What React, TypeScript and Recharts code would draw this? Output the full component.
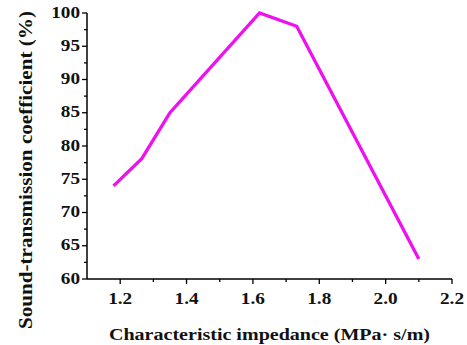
import React from 'react';
import { LineChart, Line, XAxis, YAxis } from 'recharts';

const impedance = [1.18, 1.265, 1.35, 1.62, 1.732, 2.1];
const coefficient = [74, 78.1, 85, 100, 98, 63];
const xMajorTicks = [1.2, 1.4, 1.6, 1.8, 2.0, 2.2];
const xAllTicks = [1.1, 1.2, 1.3, 1.4, 1.5, 1.6, 1.7, 1.8, 1.9, 2.0, 2.1, 2.2];
const yMajorTicks = [60, 65, 70, 75, 80, 85, 90, 95, 100];
const yAllTicks = [60, 62.5, 65, 67.5, 70, 72.5, 75, 77.5, 80, 82.5, 85, 87.5, 90, 92.5, 95, 97.5, 100];
const xTitle = 'Characteristic impedance (MPa·  s/m)';
const yTitle = 'Sound-transmission coefficient (%)';

const data = impedance.map((x, i) => ({ x, y: coefficient[i] }));
const FONT = '"Liberation Serif", "Times New Roman", serif';

const isMajor = (v: number, list: number[]) => list.some((m) => Math.abs(m - v) < 1e-6);

const XTick = (props: any) => {
  const { x, y, payload } = props;
  const v = payload.value;
  const major = isMajor(v, xMajorTicks);
  if (Math.abs(v - 1.1) < 1e-6) return <g />;
  return (
    <g>
      <line x1={x} x2={x} y1={y} y2={y + (major ? 5 : 3)} stroke="#000" strokeWidth={1.3} />
      {major && (
        <text
          transform={`translate(${x}, ${y + 25}) scale(1.17, 1)`}
          textAnchor="middle"
          fontFamily={FONT}
          fontWeight="bold"
          fontSize={16.5}
          fill="#111"
        >
          {v.toFixed(1)}
        </text>
      )}
    </g>
  );
};

const YTick = (props: any) => {
  const { x, y, payload } = props;
  const v = payload.value;
  const major = isMajor(v, yMajorTicks);
  return (
    <g>
      <line x1={x - (major ? 5 : 3)} x2={x} y1={y} y2={y} stroke="#000" strokeWidth={1.3} />
      {major && (
        <text
          transform={`translate(${x - 7}, ${y + 4.5}) scale(1.2, 1)`}
          textAnchor="end"
          fontFamily={FONT}
          fontWeight="bold"
          fontSize={16}
          fill="#111"
        >
          {v}
        </text>
      )}
    </g>
  );
};

const XLabel = (props: any) => {
  const vb = props.viewBox;
  return (
    <text
      x={vb.x + vb.width / 2}
      y={vb.y + 61}
      textAnchor="middle"
      fontFamily={FONT}
      fontWeight="bold"
      fontSize={17.5}
      fill="#111"
      textLength={321}
      lengthAdjust="spacingAndGlyphs"
    >
      {xTitle}
    </text>
  );
};

const YLabel = (props: any) => {
  const vb = props.viewBox;
  const cx = 32;
  const cy = vb.y + vb.height / 2 + 24;
  return (
    <text
      x={cx}
      y={cy}
      transform={`rotate(-90, ${cx}, ${cy})`}
      textAnchor="middle"
      fontFamily={FONT}
      fontWeight="bold"
      fontSize={18}
      fill="#111"
      textLength={318}
      lengthAdjust="spacingAndGlyphs"
    >
      {yTitle}
    </text>
  );
};

export default function App() {
  return (
    <div style={{ position: 'absolute', left: 0, top: 0, width: 467, height: 345, background: '#fff' }}>
      <LineChart width={467} height={345} data={data} margin={{ top: 13, right: 15, bottom: 0, left: 0 }}>
        <XAxis
          dataKey="x"
          type="number"
          domain={[1.1, 2.2]}
          ticks={xAllTicks}
          interval={0}
          tickSize={0}
          tickMargin={0}
          tickLine={false}
          tick={<XTick />}
          axisLine={{ stroke: '#000', strokeWidth: 1.5 }}
          height={66}
          label={<XLabel />}
        />
        <YAxis
          dataKey="y"
          type="number"
          domain={[60, 100]}
          ticks={yAllTicks}
          interval={0}
          tickSize={0}
          tickMargin={0}
          tickLine={false}
          tick={<YTick />}
          axisLine={{ stroke: '#000', strokeWidth: 1.5 }}
          width={87}
          label={<YLabel />}
        />
        <Line
          dataKey="y"
          stroke="#F00FF0"
          strokeWidth={3.3}
          dot={false}
          isAnimationActive={false}
          strokeLinejoin="miter"
        />
      </LineChart>
    </div>
  );
}
